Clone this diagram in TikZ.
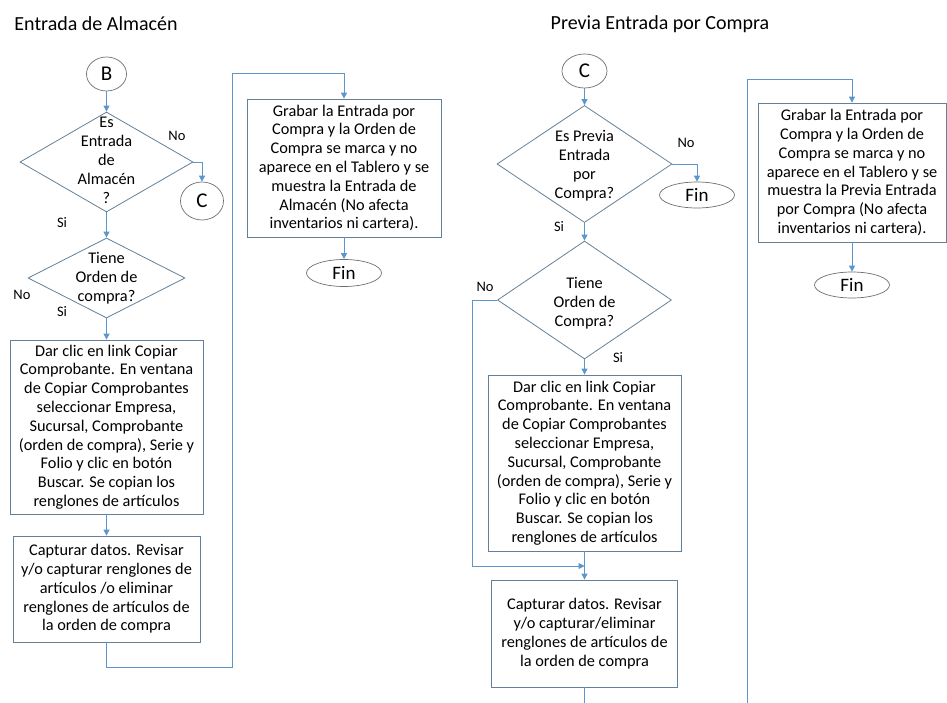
\documentclass[tikz,border=0pt]{standalone}
\usepackage{fontspec}
\setmainfont{Carlito}
\usetikzlibrary{arrows.meta,shapes}
\usepackage{xcolor}
\definecolor{flowblue}{RGB}{91,150,205}
\definecolor{boxline}{RGB}{100,128,152}
\definecolor{termline}{RGB}{110,110,110}
\tikzstyle{process}=[rectangle,draw=boxline,line width=0.8pt,align=center,inner sep=0pt,font=\fontsize{16.3}{18.8}\selectfont]
\tikzstyle{decision}=[diamond,draw=boxline,line width=0.8pt,inner sep=0pt]
\tikzstyle{question}=[align=center,inner sep=0pt,font=\fontsize{16.3}{19}\selectfont]
\tikzstyle{connector}=[ellipse,draw=termline,line width=0.7pt,inner sep=0pt,font=\fontsize{21}{21}\selectfont]
\tikzstyle{terminal}=[ellipse,draw=termline,line width=0.7pt,inner sep=0pt,minimum width=75pt,minimum height=27pt,font=\fontsize{19}{19}\selectfont]
\tikzstyle{answer}=[inner sep=0pt,font=\fontsize{14.5}{14.5}\selectfont]
\tikzstyle{title}=[inner sep=0pt,font=\fontsize{20}{20}\selectfont]
\tikzstyle{flow}=[draw=flowblue,line width=0.9pt,-{Triangle[length=6pt,width=6pt]}]
\tikzstyle{link}=[draw=flowblue,line width=0.9pt]

\begin{document}
\begin{tikzpicture}[x=1pt,y=-1pt]
    \useasboundingbox (0,0) rectangle (947,703);

    % Titles
    \node[title] (t_alm) at (96,24) {Entrada de Almacén};
    \node[title] (t_pre) at (660,24) {Previa Entrada por Compra};

    % Entrada de Almacen
    \node[connector,minimum width=40pt,minimum height=34pt] (b) at (106.5,74) {B};
    \node[decision,minimum width=173pt,minimum height=100pt] (d1) at (106.5,162) {};
    \node[question] (q1) at (106.5,160) {Es\\Entrada\\de\\Almacén\\?};
    \node[connector,minimum width=43pt,minimum height=38pt] (c1) at (202,201) {C};
    \node[decision,minimum width=157pt,minimum height=80pt] (d2) at (106.5,278) {};
    \node[question] (q2) at (106.5,278) {Tiene\\Orden de\\compra?};
    \node[process,minimum width=193pt,minimum height=174pt] (copy1) at (106.5,427)
        {Dar clic en link Copiar\\Comprobante. En ventana\\de Copiar Comprobantes\\seleccionar Empresa,\\Sucursal, Comprobante\\(orden de compra), Serie y\\Folio y clic en botón\\Buscar. Se copian los\\renglones de artículos};
    \node[process,minimum width=187pt,minimum height=106pt] (cap1) at (106.5,589)
        {Capturar datos. Revisar\\y/o capturar renglones de\\artículos /o eliminar\\renglones de artículos de\\la orden de compra};
    \node[process,minimum width=194pt,minimum height=138pt] (save1) at (344,168)
        {Grabar la Entrada por\\Compra  y la Orden de\\Compra se marca y no\\aparece  en el Tablero y se\\muestra la Entrada de\\Almacén (No afecta\\inventarios ni cartera).};
    \node[terminal] (fin1) at (344,273) {Fin};

    % Previa Entrada por Compra
    \node[connector,minimum width=45pt,minimum height=34pt] (c2) at (584.5,71) {C};
    \node[decision,minimum width=175pt,minimum height=117pt] (d3) at (584.5,164) {};
    \node[question] (q3) at (584.5,166) {Es Previa\\Entrada\\por\\Compra?};
    \node[terminal,minimum height=26pt] (fin2) at (697,195) {Fin};
    \node[decision,minimum width=174pt,minimum height=118pt] (d4) at (584.5,300) {};
    \node[question] (q4) at (584.5,303) {Tiene\\Orden de\\Compra?};
    \node[process,minimum width=193pt,minimum height=176pt] (copy2) at (584.5,463)
        {Dar clic en link Copiar\\Comprobante. En ventana\\de Copiar Comprobantes\\seleccionar Empresa,\\Sucursal, Comprobante\\(orden de compra), Serie y\\Folio y clic en botón\\Buscar. Se copian los\\renglones de artículos};
    \node[process,minimum width=186pt,minimum height=107pt] (cap2) at (584.5,633.5)
        {Capturar datos. Revisar\\y/o capturar/eliminar\\renglones de artículos de\\la orden de compra};
    \node[process,minimum width=188pt,minimum height=139pt] (save2) at (852,172.5)
        {Grabar la Entrada por\\Compra  y la Orden de\\Compra se marca y no\\aparece  en el Tablero y se\\muestra la Previa Entrada\\por Compra (No afecta\\inventarios ni cartera).};
    \node[terminal,minimum height=26pt] (fin3) at (852,285) {Fin};

    % Answers
    \foreach \pos/\name/\txt in {{(177,136)/no1/No}, {(62,223)/si1/Si}, {(22,295)/no2/No},
                                 {(62,312)/si2/Si}, {(686,143)/no3/No}, {(559,227)/si3/Si},
                                 {(485,287)/no4/No}, {(618,358)/si4/Si}}
        \node[answer] (\name) at \pos {\txt};

    % Corners
    \coordinate (k1) at (232,667);
    \coordinate (k2) at (232,73);
    \coordinate (k3) at (472,566);
    \coordinate (k4) at (584.5,703);
    \coordinate (k5) at (747,703);
    \coordinate (k6) at (747,79);

    % Arrows
    \foreach \source/\dest in {b/d1, d1/d2, d2/copy1, copy1/cap1, save1/fin1,
                               c2/d3, d3/d4, d4/copy2, copy2/cap2, save2/fin3}
        \path[flow] (\source.south) -- (\dest.north);
    \path[flow] (d1.east) -| (c1.north);
    \path[flow] (d3.east) -| (fin2.north);
    \path[flow] (cap1.south) |- (k1) -- (k2) -| (save1.north);
    \path[flow] (d4.west) -| (k3) -- (copy2.south |- k3);
    \path[link] (cap2.south) -- (k4);
    \path[flow] (k5) -- (k6) -| (save2.north);

\end{tikzpicture}
\end{document}
